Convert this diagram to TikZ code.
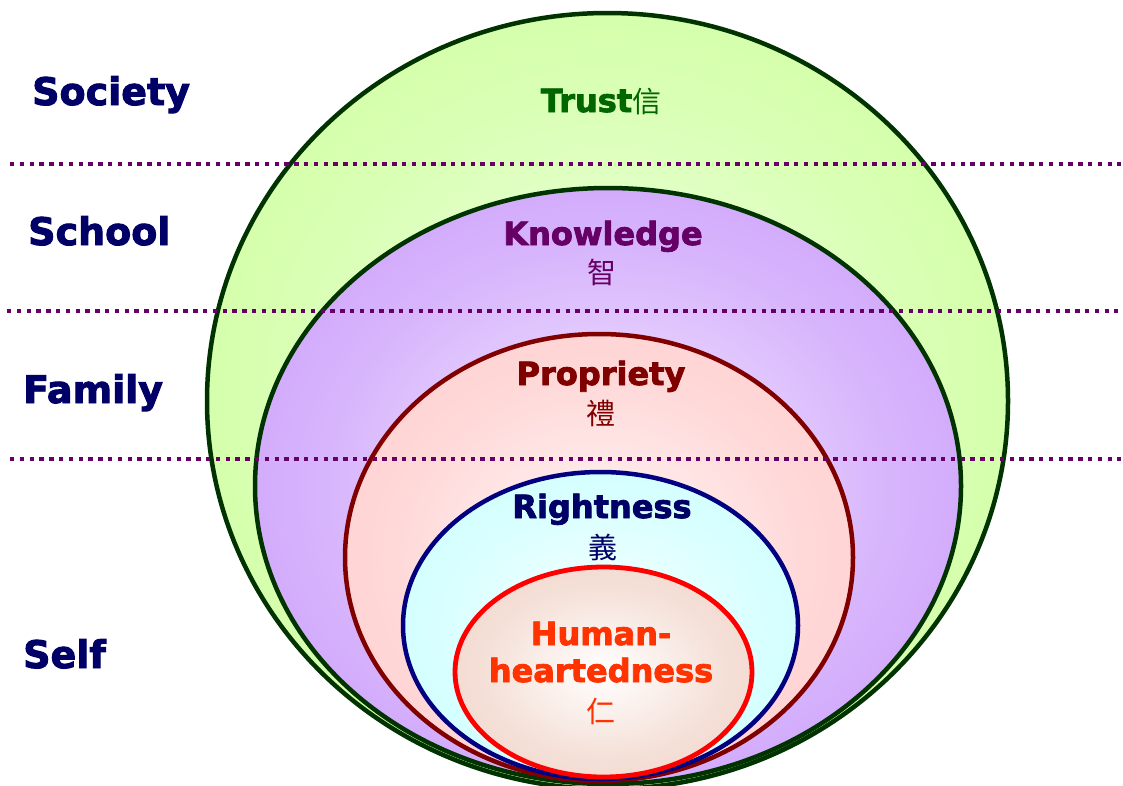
\documentclass[tikz,border=0pt]{standalone}
\usepackage{fontspec}
\setmainfont{DejaVu Sans}
\newfontfamily\vb{DejaVu Sans Bold}[FakeBold=2.5]
\newfontfamily\cjk{Noto Sans CJK TC}
\definecolor{lblnavy}{RGB}{0,0,102}
\definecolor{trustc}{RGB}{0,102,0}
\definecolor{knowc}{RGB}{102,0,102}
\definecolor{propc}{RGB}{128,0,0}
\definecolor{rightc}{RGB}{0,0,102}
\definecolor{humanc}{RGB}{255,51,0}
\definecolor{dotc}{RGB}{102,0,102}
\definecolor{gEdge}{RGB}{200,255,145}
\definecolor{gIn}{RGB}{242,255,232}
\definecolor{pEdge}{RGB}{196,144,250}
\definecolor{pIn}{RGB}{244,236,255}
\definecolor{rEdge}{RGB}{255,196,196}
\definecolor{rIn}{RGB}{255,248,248}
\definecolor{cEdge}{RGB}{196,255,255}
\definecolor{cIn}{RGB}{248,255,255}
\definecolor{hEdge}{RGB}{238,204,190}
\definecolor{hIn}{RGB}{255,255,255}
\colorlet{gMid}{gEdge!60!gIn}
\colorlet{pMid}{pEdge!60!pIn}
\colorlet{rMid}{rEdge!60!rIn}
\colorlet{cMid}{cEdge!60!cIn}
\colorlet{hMid}{hEdge!60!hIn}
\definecolor{gStroke}{RGB}{0,51,0}
\definecolor{cStroke}{RGB}{0,0,128}
\pgfdeclareradialshading{greenrad}{\pgfpoint{0bp}{0bp}}{color(0bp)=(gIn); color(20bp)=(gMid); color(42bp)=(gEdge); color(100bp)=(gEdge)}
\pgfdeclareradialshading{purplerad}{\pgfpoint{0bp}{0bp}}{color(0bp)=(pIn); color(20bp)=(pMid); color(42bp)=(pEdge); color(100bp)=(pEdge)}
\pgfdeclareradialshading{pinkrad}{\pgfpoint{0bp}{0bp}}{color(0bp)=(rIn); color(20bp)=(rMid); color(42bp)=(rEdge); color(100bp)=(rEdge)}
\pgfdeclareradialshading{cyanrad}{\pgfpoint{0bp}{0bp}}{color(0bp)=(cIn); color(20bp)=(cMid); color(42bp)=(cEdge); color(100bp)=(cEdge)}
\pgfdeclareradialshading{humanrad}{\pgfpoint{0bp}{0bp}}{color(0bp)=(hIn); color(20bp)=(hMid); color(42bp)=(hEdge); color(100bp)=(hEdge)}
\begin{document}
\begin{tikzpicture}[x=1pt,y=-1pt,
  level/.style={font=\vb\fontsize{38}{40}\selectfont, text=lblnavy, anchor=base west, inner sep=0pt},
  virtue/.style={font=\vb\fontsize{32}{34}\selectfont, anchor=base, inner sep=0pt},
  hanzi/.style={font=\cjk\fontsize{29}{30}\selectfont, anchor=center, inner sep=0pt},
  ring/.style={line width=4.5pt},
  dotline/.style={draw=dotc, line width=4.3pt, dash pattern=on 4.3pt off 5.5pt}
]
\useasboundingbox (0,0) rectangle (1123,785);
\begin{scope}
\clip (0,0) rectangle (1123,785);
\shadedraw[ring, shading=greenrad, draw=gStroke] (607.5,401) ellipse [x radius=400.5pt, y radius=388pt];
\shadedraw[ring, shading=purplerad, draw=gStroke] (608,486) ellipse [x radius=353pt, y radius=298pt];
\shadedraw[ring, shading=pinkrad, draw=propc] (599,557.5) ellipse [x radius=254pt, y radius=223.5pt];
\shadedraw[ring, shading=cyanrad, draw=cStroke] (600.5,625.5) ellipse [x radius=197.5pt, y radius=153.5pt];
\shadedraw[line width=4.8pt, shading=humanrad, draw=red] (603.5,672) ellipse [x radius=148.5pt, y radius=105pt];
\end{scope}
\coordinate (d1a) at (10,164);  \coordinate (d1b) at (1121,164);
\coordinate (d2a) at (7,311);   \coordinate (d2b) at (1118,311);
\coordinate (d3a) at (10,459);  \coordinate (d3b) at (1121,459);
\draw[dotline] (d1a) -- (d1b);
\draw[dotline] (d2a) -- (d2b);
\draw[dotline] (d3a) -- (d3b);
\node[level] (society) at (32,105) {Society};
\node[level] (school) at (28,245) {School};
\node[level] (family) at (23,403) {Family};
\node[level] (self) at (23,668) {Self};
\node[virtue, text=trustc] (trust) at (601,112) {Trust{\cjk\fontsize{29}{30}\selectfont 信}};
\node[virtue, text=knowc] (knowledge) at (603,245) {Knowledge};
\node[hanzi, text=knowc] (zhi) at (602,272) {智};
\node[virtue, text=propc] (propriety) at (601,385) {Propriety};
\node[hanzi, text=propc] (li) at (601,413) {禮};
\node[virtue, text=rightc] (rightness) at (602,518) {Rightness};
\node[hanzi, text=rightc] (yi) at (603,547) {義};
\node[virtue, text=humanc] (human) at (601,645) {Human-};
\node[virtue, text=humanc] (hearted) at (601,682) {heartedness};
\node[hanzi, text=humanc] (ren) at (601,711) {仁};
\end{tikzpicture}
\end{document}
